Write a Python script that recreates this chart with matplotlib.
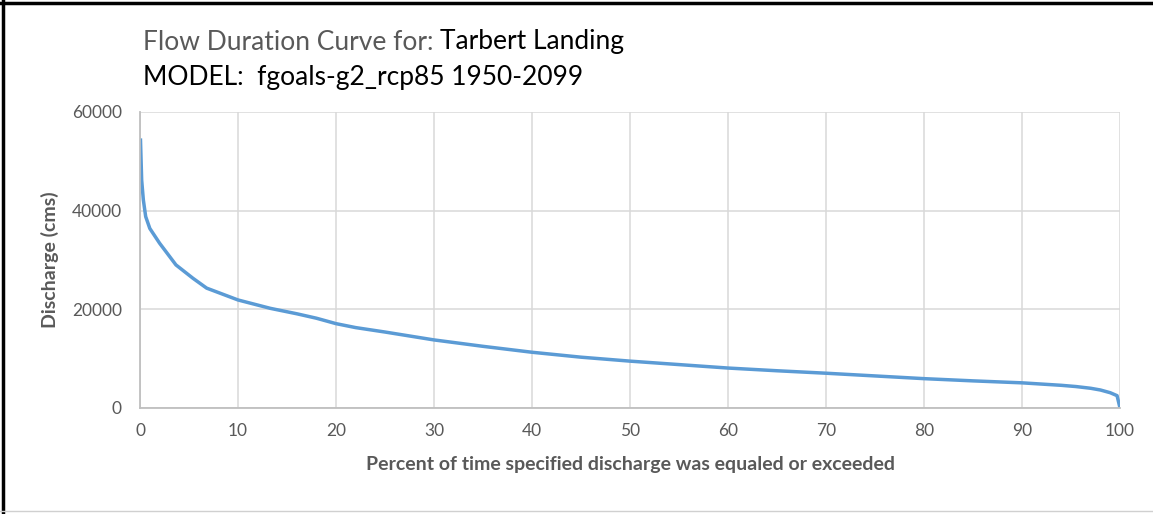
import matplotlib
matplotlib.use("Agg")
import matplotlib.pyplot as plt
from matplotlib.lines import Line2D

# Flow duration curve, Tarbert Landing
pct_exceeded = [0.05, 0.17, 0.34, 0.58, 1.0, 2.0, 3.67, 5.4, 6.8, 8.0, 10.0,
                13.3, 16.0, 18.0, 20.0, 22.0, 25.0, 30.0, 35.0, 40.0, 45.0,
                50.0, 55.0, 60.0, 65.0, 70.0, 75.0, 80.0, 85.0, 90.0, 92.0,
                94.0, 95.5, 97.0, 98.0, 99.0, 99.7, 100.0]
discharge = [54300, 46200, 42200, 38800, 36400, 33400, 29000, 26300, 24300,
             23400, 21900, 20200, 19100, 18200, 17100, 16300, 15400, 13800,
             12500, 11300, 10300, 9500, 8800, 8100, 7550, 7050, 6500, 5950,
             5500, 5100, 4850, 4600, 4350, 4000, 3650, 3100, 2500, 0]

x_ticks = list(range(0, 101, 10))
y_ticks = [0, 20000, 40000, 60000]

title_gray = "Flow Duration Curve for: "
title_site = "Tarbert Landing"
title_model = "MODEL:  fgoals-g2_rcp85 1950-2099"

FONT = "Lato"
GRAY = "#595959"

fig = plt.figure(figsize=(11.53, 5.14), dpi=100)
ax = fig.add_axes([140/1153, 1 - 408/514, 980/1153, 296/514])

ax.plot(pct_exceeded, discharge, color="#5B9BD5", lw=2.5,
        solid_joinstyle="round")

ax.set_xlim(0, 100)
ax.set_ylim(0, 60000)
ax.set_xticks(x_ticks)
ax.set_yticks(y_ticks)
ax.grid(True, color="#d9d9d9", lw=1.1)
ax.set_axisbelow(True)
ax.tick_params(length=0, colors=GRAY, labelsize=12.5)
ax.tick_params(axis="y", pad=13)
ax.tick_params(axis="x", pad=11)
for lab in ax.get_xticklabels() + ax.get_yticklabels():
    lab.set_family(FONT)
for s in ["top", "right"]:
    ax.spines[s].set_visible(False)
for s in ["left", "bottom"]:
    ax.spines[s].set_color("#bfbfbf")
    ax.spines[s].set_linewidth(1.3)

ax.set_xlabel("Percent of time specified discharge was equaled or exceeded",
              family=FONT, fontsize=14, fontweight="bold", color=GRAY, labelpad=12)
ax.set_ylabel("Discharge (cms)", family=FONT, fontsize=14,
              fontweight="bold", color=GRAY, labelpad=9)

# title in two colours
t1 = fig.text(143/1153, 1 - 42/514, title_gray, family=FONT, fontsize=19,
              color=GRAY, va="center", ha="left")
fig.canvas.draw()
bb = t1.get_window_extent()
fig.text(bb.x1 / 1153, 1 - 42/514, title_site, family=FONT, fontsize=19,
         color="black", va="center", ha="left")
fig.text(143/1153, 1 - 77/514, title_model, family=FONT, fontsize=19,
         color="black", va="center", ha="left")

# outer frame of the screenshot
fig.add_artist(Line2D([3/1153, 3/1153], [0, 1], color="black", lw=2.5,
                      transform=fig.transFigure))
fig.add_artist(Line2D([0, 1], [1 - 3/514, 1 - 3/514], color="black", lw=2.5,
                      transform=fig.transFigure))
fig.add_artist(Line2D([0, 1], [3/514, 3/514], color="#d0d0d0", lw=1,
                      transform=fig.transFigure))

fig.savefig("out.png", dpi=100)
